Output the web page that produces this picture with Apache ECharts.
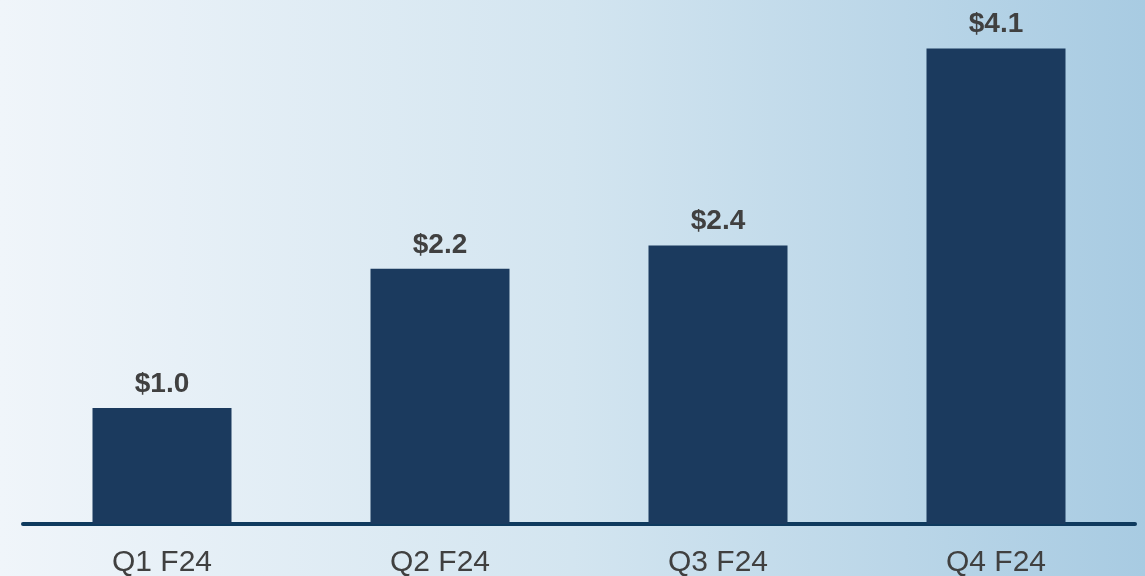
<!DOCTYPE html>
<html><head><meta charset="utf-8">
<script src="https://cdn.jsdelivr.net/npm/echarts@6/dist/echarts.min.js"></script>
<style>html,body{margin:0;padding:0;}#c{width:1145px;height:576px;}</style>
</head><body><div id="c"></div>
<script>
const categories = ['Q1 F24', 'Q2 F24', 'Q3 F24', 'Q4 F24'];
const values = [1.0, 2.2, 2.4, 4.1];

const chart = echarts.init(document.getElementById('c'));
chart.setOption({
  backgroundColor: new echarts.graphic.LinearGradient(0, 0, 1, 0, [
    {offset: 0, color: '#f0f5fa'},
    {offset: 0.5, color: '#d3e5f0'},
    {offset: 1, color: '#a8cbe2'}
  ]),
  animation: false,
  grid: {left: 23, right: 10, top: 2, bottom: 52, containLabel: false, outerBoundsMode: 'none'},
  xAxis: {
    type: 'category', data: categories,
    axisLine: {lineStyle: {color: '#0f3a5e', width: 4}},
    axisTick: {show: false},
    axisLabel: {color: '#404040', fontSize: 30, fontFamily: 'Liberation Sans, Arial', margin: 24}
  },
  yAxis: {type: 'value', min: 0, max: 4.5, show: false, splitLine: {show: false}},
  series: [{
    type: 'bar', data: values, barWidth: 139,
    itemStyle: {color: '#1b3a5e'},
    label: {show: true, position: 'top', distance: 10, color: '#404040',
      fontSize: 28, fontWeight: 'bold', fontFamily: 'Liberation Sans, Arial',
      formatter: p => '$' + p.value.toFixed(1)}
  }]
});
</script></body></html>
